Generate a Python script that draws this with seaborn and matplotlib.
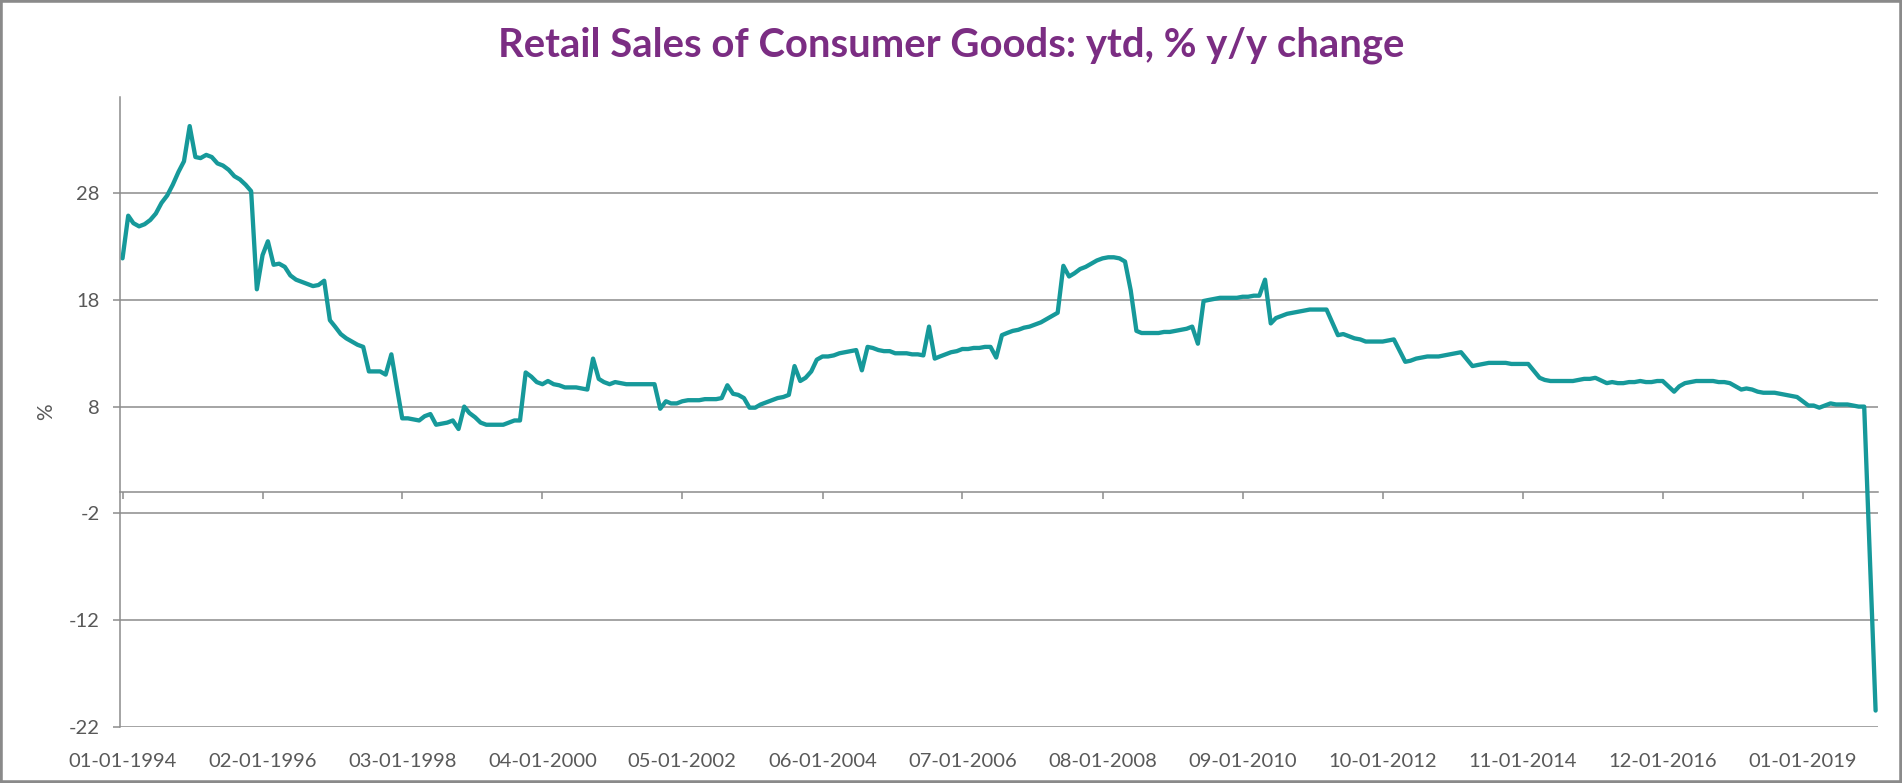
import numpy as np
import pandas as pd
import matplotlib
matplotlib.use("Agg")
import matplotlib.pyplot as plt
import matplotlib.dates as mdates
from matplotlib.patches import Rectangle
import seaborn as sns

nan = np.nan

# ---- data: retail sales of consumer goods, ytd % y/y, monthly (Jan..Dec) ----
y1994 = [21.9, 25.9, 25.2, 24.9, 25.1, 25.5, 26.1, 27.1, 27.8, 28.8, 30.0, 31.0]
y1995 = [34.3, 31.4, 31.3, 31.6, 31.4, 30.8, 30.6, 30.2, 29.6, 29.3, 28.8, 28.2]
y1996 = [19.0, 22.2, 23.5, 21.3, 21.4, 21.1, 20.3, 19.9, 19.7, 19.5, 19.3, 19.4]
y1997 = [19.8, 16.1, 15.5, 14.8, 14.4, 14.1, 13.8, 13.6, 11.3, 11.3, 11.3, 11.0]
y1998 = [12.9, 9.7, 6.9, 6.9, 6.8, 6.7, 7.1, 7.3, 6.3, 6.4, 6.5, 6.7]
y1999 = [5.9, 8.0, 7.4, 7.0, 6.5, 6.3, 6.3, 6.3, 6.3, 6.5, 6.7, 6.7]
y2000 = [11.2, 10.8, 10.3, 10.1, 10.4, 10.1, 10.0, 9.8, 9.8, 9.8, 9.7, 9.6]
y2001 = [12.5, 10.6, 10.3, 10.1, 10.3, 10.2, 10.1, 10.1, 10.1, 10.1, 10.1, 10.1]
y2002 = [7.8, 8.5, 8.3, 8.3, 8.5, 8.6, 8.6, 8.6, 8.7, 8.7, 8.7, 8.8]
y2003 = [10.0, 9.2, 9.1, 8.8, 7.9, 7.9, 8.2, 8.4, 8.6, 8.8, 8.9, 9.1]
y2004 = [11.8, 10.4, 10.7, 11.3, 12.4, 12.7, 12.7, 12.8, 13.0, 13.1, 13.2, 13.3]
y2005 = [11.4, 13.6, 13.5, 13.3, 13.2, 13.2, 13.0, 13.0, 13.0, 12.9, 12.9, 12.8]
y2006 = [15.5, 12.5, 12.7, 12.9, 13.1, 13.2, 13.4, 13.4, 13.5, 13.5, 13.6, 13.6]
y2007 = [12.6, 14.7, 14.9, 15.1, 15.2, 15.4, 15.5, 15.7, 15.9, 16.2, 16.5, 16.8]
y2008 = [21.2, 20.2, 20.5, 20.9, 21.1, 21.4, 21.7, 21.9, 22.0, 22.0, 21.9, 21.6]
y2009 = [18.9, 15.1, 14.9, 14.9, 14.9, 14.9, 15.0, 15.0, 15.1, 15.2, 15.3, 15.5]
y2010 = [13.9, 17.9, 18.0, 18.1, 18.2, 18.2, 18.2, 18.2, 18.3, 18.3, 18.4, 18.4]
y2011 = [19.9, 15.8, 16.3, 16.5, 16.7, 16.8, 16.9, 17.0, 17.1, 17.1, 17.1, 17.1]
y2012 = [nan, 14.7, 14.8, 14.6, 14.4, 14.3, 14.1, 14.1, 14.1, 14.1, 14.2, 14.3]
y2013 = [nan, 12.2, 12.3, 12.5, 12.6, 12.7, 12.7, 12.7, 12.8, 12.9, 13.0, 13.1]
y2014 = [nan, 11.8, 11.9, 12.0, 12.1, 12.1, 12.1, 12.1, 12.0, 12.0, 12.0, 12.0]
y2015 = [nan, 10.7, 10.5, 10.4, 10.4, 10.4, 10.4, 10.4, 10.5, 10.6, 10.6, 10.7]
y2016 = [nan, 10.2, 10.3, 10.2, 10.2, 10.3, 10.3, 10.4, 10.3, 10.3, 10.4, 10.4]
y2017 = [nan, 9.4, 9.9, 10.2, 10.3, 10.4, 10.4, 10.4, 10.4, 10.3, 10.3, 10.2]
y2018 = [nan, 9.6, 9.7, 9.6, 9.4, 9.3, 9.3, 9.3, 9.2, 9.1, 9.0, 8.9]
y2019 = [nan, 8.1, 8.1, 7.9, 8.1, 8.3, 8.2, 8.2, 8.2, 8.1, 8.0, 8.0]
y2020 = [nan, -20.5]

yearly = [y1994, y1995, y1996, y1997, y1998, y1999, y2000, y2001, y2002,
          y2003, y2004, y2005, y2006, y2007, y2008, y2009, y2010, y2011,
          y2012, y2013, y2014, y2015, y2016, y2017, y2018, y2019, y2020]
values = [v for yr in yearly for v in yr]
dates = pd.date_range("1994-01-01", periods=len(values), freq="MS")
df = pd.DataFrame({"date": dates, "value": values})

x_tick_labels = ["01-01-1994", "02-01-1996", "03-01-1998", "04-01-2000",
                 "05-01-2002", "06-01-2004", "07-01-2006", "08-01-2008",
                 "09-01-2010", "10-01-2012", "11-01-2014", "12-01-2016",
                 "01-01-2019"]
y_ticks = [-22, -12, -2, 8, 18, 28]
title = "Retail Sales of Consumer Goods: ytd, % y/y change"
y_label = "%"

# ---- style ----
sns.set_theme(style="white")
plt.rcParams["font.family"] = ["Lato", "DejaVu Sans"]

LINE = "#16999A"
GRID = "#8C8C8C"
TXT = "#595959"
PURPLE = "#7B2D83"

fig = plt.figure(figsize=(19.02, 7.83), dpi=100)
fig.patch.set_facecolor("white")
ax = fig.add_axes([0.06335, 0.07152, 0.92403, 0.80421])

sns.lineplot(data=df, x="date", y="value", color=LINE, linewidth=3.1, ax=ax)

ymin, ymax = -22.04, 37.0
ax.set_ylim(ymin, ymax)
ax.set_xlim(pd.Timestamp("1993-12-21"), pd.Timestamp("2020-02-14"))

ax.set_yticks(y_ticks)
ax.set_yticklabels([str(t) for t in y_ticks])
tick_pos = pd.to_datetime(x_tick_labels, format="%m-%d-%Y")
ax.set_xticks(tick_pos)
ax.set_xticklabels(x_tick_labels)

ax.set_axisbelow(True)
ax.yaxis.grid(True, color=GRID, linewidth=1.1)
ax.xaxis.grid(False)
for s in ["top", "right", "bottom"]:
    ax.spines[s].set_visible(False)
ax.spines["left"].set_color(GRID)
ax.spines["left"].set_linewidth(1.1)

ax.tick_params(axis="y", direction="out", length=5, width=1.1, color=GRID,
               labelsize=14.5, labelcolor=TXT, pad=10, left=True)
ax.tick_params(axis="x", length=0, pad=19, labelsize=14.5, labelcolor=TXT)
ax.set_xlabel("")
ax.set_ylabel("")

# horizontal category axis crossing at zero, with tick marks
zero_loc = (0 - ymin) / (ymax - ymin)
sec = ax.secondary_xaxis(zero_loc)
sec.set_xticks(mdates.date2num(tick_pos))
sec.set_xticklabels([""] * len(tick_pos))
sec.tick_params(axis="x", direction="out", length=5, width=1.1, color=GRID)
for s in sec.spines.values():
    s.set_color(GRID)
    s.set_linewidth(1.1)

fig.text(0.5, 1 - 45 / 783, title, ha="center", va="center",
         fontsize=28.8, fontweight="bold", color=PURPLE)
fig.text(46 / 1902, 1 - 412 / 783, y_label, rotation=90, ha="center",
         va="center", fontsize=15, color=TXT)

fig.patches.append(Rectangle((0, 0), 1, 1, transform=fig.transFigure,
                             fill=False, edgecolor="#8A8A8A", linewidth=4,
                             zorder=10))

fig.savefig("out.png", dpi=100, facecolor="white")
